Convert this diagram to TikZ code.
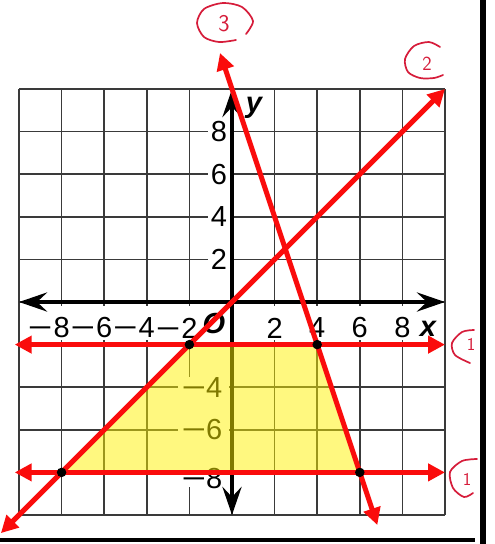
\documentclass[tikz,border=0pt]{standalone}
\usepackage{fontspec}
\setmainfont{Liberation Sans}
\usepackage{graphicx}
\usetikzlibrary{arrows.meta}
\definecolor{gridc}{HTML}{3A3A3A}
\definecolor{redl}{RGB}{250,12,12}
\definecolor{pencol}{RGB}{214,28,58}
\newcommand{\mn}{\scalebox{1.45}[1]{−}}
\begin{document}
\begin{tikzpicture}[x=1pt,y=-1pt,
  gridline/.style={draw=gridc,line width=1.5pt},
  axisline/.style={line width=4.5pt,black,{Stealth[length=28pt,width=19pt,inset=10pt]}-{Stealth[length=28pt,width=19pt,inset=10pt]}},
  redline/.style={draw=redl,line width=5pt,{Triangle[length=17pt,width=17pt]}-{Triangle[length=17pt,width=17pt]}},
  lbl/.style={font=\fontsize{29}{29}\selectfont,inner sep=0pt,text=black},
  axlbl/.style={font=\fontsize{29}{29}\selectfont\bfseries\itshape,inner sep=0pt},
  vdot/.style={circle,fill=black,inner sep=0pt,minimum size=9.5pt},
  pen/.style={draw=pencol,line width=1.7pt,line cap=round,line join=round},
  pentext/.style={text=pencol,inner sep=0pt}]
\useasboundingbox (0,0) rectangle (495,544);
\fill[white] (0,0) rectangle (495,544);

\begin{scope}[shift={(232,302)},x=21.3pt,y=21.3pt]
  % grid
  \foreach \k in {-10,-8,...,10} {
    \draw[gridline] (\k,-10) -- (\k,10);
    \draw[gridline] (-10,\k) -- (10,\k);
  }
  % white label backgrounds
  \fill[white] (-9.77,-0.19) rectangle (9.77,-1.78);
  \fill[white] (-2.54,-3.52) rectangle (-0.14,-8.69);
  % axes
  \coordinate (xl) at (-10,0);
  \coordinate (xr) at (10,0);
  \coordinate (yb) at (0,-10);
  \coordinate (yt) at (0,10);
  % y labels (positive)
  \foreach \k in {8,6,4,2} {
    \node[lbl,anchor=east,fill=white,inner xsep=3pt,inner ysep=1pt] (ylab\k) at (-0.08,\k) {\k};
  }
  \draw[axisline] (xl) -- (xr);
  \draw[axisline] (yb) -- (yt);
  % y labels (negative)
  \node[lbl,anchor=east] (ylabm4) at (-0.45,-4) {\mn 4};
  \node[lbl,anchor=east] (ylabm6) at (-0.45,-6) {\mn 6};
  \node[lbl,anchor=east] (ylabm8) at (-0.45,-8.31) {\mn 8};
  % x labels
  \foreach \k in {8,6,4,2} {
    \node[lbl] (xlabm\k) at (-\k,-1.22) {\llap{\mn\hspace{1pt}}\k};
    \node[lbl] (xlab\k) at (\k,-1.22) {\k};
  }
  \node[axlbl] (olab) at (-0.85,-1.03) {O};
  \node[axlbl,anchor=base] (xname) at (9.2,-1.64) {x};
  \node[axlbl,anchor=base] (yname) at (1.03,8.92) {y};

  % feasible region
  \coordinate (A) at (-2,-2);
  \coordinate (B) at (4,-2);
  \coordinate (C) at (6,-8);
  \coordinate (D) at (-8,-8);
  \fill[yellow,fill opacity=0.5] (A) -- (B) -- (C) -- (D) -- cycle;

  % red boundary lines
  \coordinate (h1a) at (-10.2,-2);
  \coordinate (h1b) at (10,-2);
  \coordinate (h2a) at (-10.2,-8);
  \coordinate (h2b) at (10,-8);
  \coordinate (d2a) at (-10.85,-10.85);
  \coordinate (d2b) at (10,10);
  \coordinate (d3a) at (-0.563,11.69);
  \coordinate (d3b) at (6.823,-10.47);
  \draw[redline] (h1a) -- (h1b);
  \draw[redline] (h2a) -- (h2b);
  \draw[redline] (d2a) -- (d2b);
  \draw[redline] (d3a) -- (d3b);

  % vertices
  \foreach \p in {A,B,C,D} { \node[vdot] (dot\p) at (\p) {}; }
\end{scope}

% handwritten annotations
\draw[pen] plot[smooth] coordinates {(246,34) (253,21) (242,7) (223,3) (204,9) (197,23) (204,37) (219,42) (236,40)};
\node[pentext,font=\sffamily\fontsize{24}{24}\selectfont] (n3) at (224,24) {3};
\draw[pen] plot[smooth] coordinates {(440,47) (429,42) (414,46) (405,59) (408,72) (420,78) (434,78) (443,75)};
\node[pentext,font=\sffamily\fontsize{20}{20}\selectfont] (n2) at (427,64) {2};
\draw[pen] plot[smooth] coordinates {(474,330) (462,332) (452,343) (455,355) (470,363)};
\node[pentext,font=\sffamily\fontsize{18}{18}\selectfont] (n1a) at (471,344) {1};
\draw[pen] plot[smooth] coordinates {(477,459) (462,461) (450,472) (453,488) (464,497) (473,493)};
\node[pentext,font=\sffamily\fontsize{18}{18}\selectfont] (n1b) at (467,479) {1};

% page borders
\fill[black] (480,0) rectangle (485.5,544);
\fill[black] (0,538) rectangle (475,542);
\end{tikzpicture}
\end{document}
